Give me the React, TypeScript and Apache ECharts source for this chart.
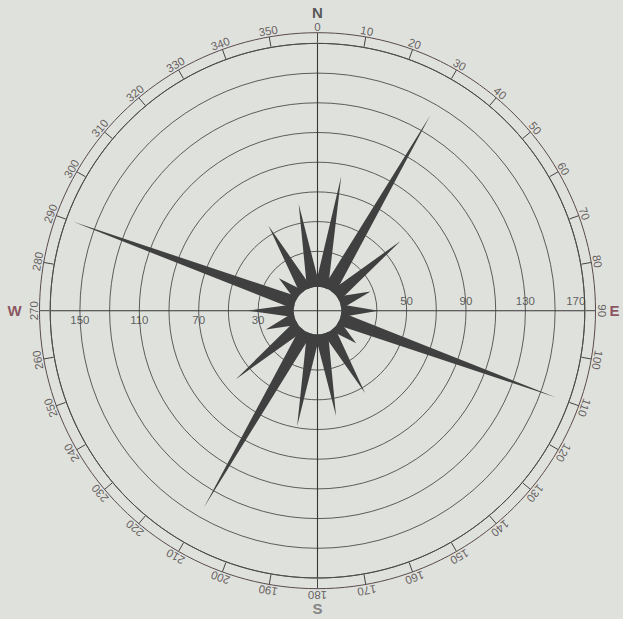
import { useEffect, useRef } from 'react';
import * as echarts from 'echarts';

// Wind-rose data: direction (degrees clockwise from north) and plotted value
const directions = [10, 30, 50, 70, 90, 110, 130, 150, 170, 190, 210, 230, 250, 270, 290, 310, 330, 350];
const frequencies = [82, 142, 63, 28, 31, 161, 24, 54, 62, 69, 143, 62, 27, 37, 165, 24, 56, 63];

// Radial scale labels
const leftScaleLabels = [30, 70, 110, 150];
const rightScaleLabels = [50, 90, 130, 170];

// Degree labels round the rim
const degreeLabels = [0, 10, 20, 30, 40, 50, 60, 70, 80, 90, 100, 110, 120, 130, 140, 150, 160, 170,
  180, 190, 200, 210, 220, 230, 240, 250, 260, 270, 280, 290, 300, 310, 320, 330, 340, 350];

// Compass points
const compassLetters = ['N', 'E', 'S', 'W'];
const compassAngles = [0, 90, 180, 270];

const CENTER = [317.5, 310.7];
const HUB = 6;
const BASE_HALF_ANGLE = 16;
const FONT = "'Liberation Sans', Arial, sans-serif";

export default function App() {
  const ref = useRef<HTMLDivElement>(null);
  useEffect(() => {
    const chart = echarts.init(ref.current as HTMLDivElement, null, { renderer: 'svg' });
    const hidden = 'rgba(0,0,0,0)';
    const grid = '#4d4d4d';
    const plainText = { textBorderWidth: 0, textShadowBlur: 0, fontFamily: FONT };
    const option: any = {
      animation: false,
      backgroundColor: '#dfe1dc',
      polar: [
        { center: CENTER, radius: 267.3 },
        { center: CENTER, radius: 278 },
        { center: CENTER, radius: 300 },
      ],
      radiusAxis: [
        {
          polarIndex: 0, type: 'value', min: -10, max: 170, interval: 20,
          axisLine: { show: false }, axisTick: { show: false }, axisLabel: { show: false },
          splitLine: {
            show: true,
            lineStyle: { color: [hidden, hidden, grid, grid, grid, grid, grid, grid, grid, grid], width: 0.9 },
          },
        },
        { polarIndex: 1, type: 'value', min: 0, max: 1, show: false },
        { polarIndex: 2, type: 'value', min: 0, max: 300, show: false },
      ],
      angleAxis: [
        {
          polarIndex: 0, type: 'value', min: 0, max: 360, interval: 90, startAngle: 90, clockwise: true,
          axisLine: { show: true, lineStyle: { color: '#4a4a4a', width: 1 } },
          axisTick: { show: false }, axisLabel: { show: false },
          splitLine: { show: true, lineStyle: { color: '#363636', width: 1.1 } },
        },
        {
          polarIndex: 1, type: 'value', min: 0, max: 360, interval: 10, startAngle: 90, clockwise: true,
          axisLine: { show: true, lineStyle: { color: '#5a4a4e', width: 1 } },
          axisTick: { show: true, inside: true, length: 10, lineStyle: { color: '#444', width: 1 } },
          axisLabel: { show: false }, splitLine: { show: false },
        },
        { polarIndex: 2, type: 'value', min: 0, max: 360, startAngle: 90, clockwise: true, show: false },
      ],
      series: [
        {
          type: 'custom',
          coordinateSystem: 'polar',
          polarIndex: 0,
          z: 5,
          data: directions.map((d, i) => [frequencies[i], d]),
          renderItem: (_params: any, api: any) => {
            const v = api.value(0);
            const a = api.value(1);
            const pts: number[][] = [];
            const steps = 8;
            for (let k = 0; k <= steps; k++) {
              const ang = a - BASE_HALF_ANGLE + (2 * BASE_HALF_ANGLE * k) / steps;
              const p = api.coord([HUB, ang]);
              pts.push([p[0], p[1]]);
            }
            const t = api.coord([v, a]);
            pts.push([t[0], t[1]]);
            return { type: 'polygon', shape: { points: pts }, style: { fill: '#404040' } };
          },
        },
        {
          type: 'scatter', coordinateSystem: 'polar', polarIndex: 0, clip: false, z: 6,
          symbolSize: 1, itemStyle: { color: hidden },
          data: leftScaleLabels.map((v) => ({ value: [v, 270], name: String(v) })),
          label: { show: true, position: 'bottom', distance: 3, formatter: '{b}', color: '#3a3a3a', fontSize: 11.5, ...plainText },
        },
        {
          type: 'scatter', coordinateSystem: 'polar', polarIndex: 0, clip: false, z: 6,
          symbolSize: 1, itemStyle: { color: hidden },
          data: rightScaleLabels.map((v, i) => ({
            value: [v, 90], name: String(v),
            label: i === rightScaleLabels.length - 1 ? { offset: [-9, 0] } : {},
          })),
          label: { show: true, position: 'top', distance: 3, formatter: '{b}', color: '#3a3a3a', fontSize: 11.5, ...plainText },
        },
        {
          type: 'scatter', coordinateSystem: 'polar', polarIndex: 2, clip: false, z: 6,
          symbolSize: 1, itemStyle: { color: hidden },
          data: degreeLabels.map((d) => ({ value: [284, d], name: String(d), label: { rotate: -d } })),
          label: { show: true, position: 'inside', formatter: '{b}', color: '#463c40', fontSize: 11.5, ...plainText },
        },
        {
          type: 'scatter', coordinateSystem: 'polar', polarIndex: 2, clip: false, z: 6,
          symbolSize: 1, itemStyle: { color: hidden },
          data: compassLetters.map((c, i) => ({
            value: [298, compassAngles[i]], name: c,
            label: {
              color: c === 'E' || c === 'W' ? '#74303f' : c === 'S' ? '#6a6a6a' : '#333',
              offset: c === 'W' ? [-5, 0] : c === 'E' ? [-1, 0] : [0, 0],
            },
          })),
          label: { show: true, position: 'inside', formatter: '{b}', fontSize: 15, fontWeight: 'bold', ...plainText },
        },
      ],
    };
    chart.setOption(option);
    return () => chart.dispose();
  }, []);
  return <div ref={ref} style={{ position: 'absolute', left: 0, top: 0, width: 623, height: 619 }} />;
}
